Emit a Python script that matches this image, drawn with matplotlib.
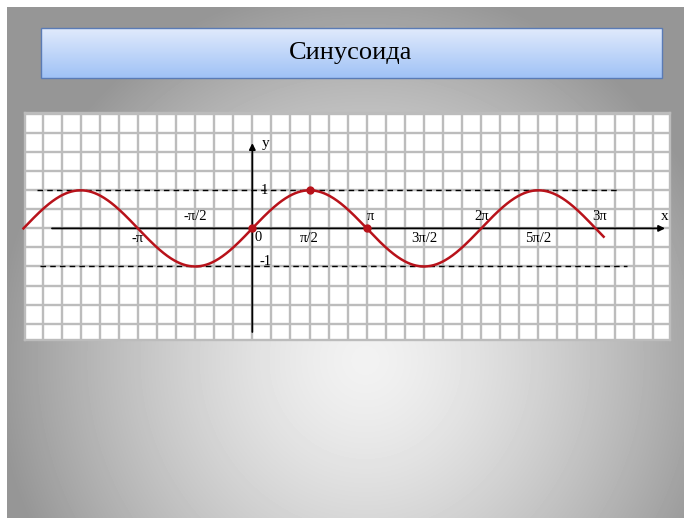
import numpy as np
import matplotlib.pyplot as plt
from matplotlib.patches import Rectangle

PI = np.pi

title = "Синусоида"

# curve y = sin(x), drawn from -2pi to a bit past 3pi
curve_start = -2 * PI
curve_end = 3 * PI + 0.22

# marked points (x in units of pi)
dots_x = [0, 0.5, 1]
dots_y = [0, 1, 0]

# x labels: value in units of pi, text, above/below the axis
xlab_vals = [-1, -0.5, 0.5, 1, 1.5, 2, 2.5, 3]
xlab_text = ["-π", "-π/2", "π/2", "π", "3π/2", "2π", "5π/2", "3π"]
xlab_above = [False, True, False, True, False, True, False, True]

# y labels
ylab_vals = [1, -1]
ylab_text = ["1", "-1"]

red = "#b8121a"
gridc = "#bcbcbc"
serif = ["Liberation Serif", "DejaVu Serif"]

fig = plt.figure(figsize=(6.84, 5.18), dpi=100)
fig.patch.set_facecolor("white")

# background layer in pixel coordinates
bg = fig.add_axes([0, 0, 1, 1])
bg.set_xlim(0, 684)
bg.set_ylim(518, 0)
bg.axis("off")

yy, xx = np.mgrid[7:518, 7:684]
r = np.sqrt(((xx - 365) / 370.0) ** 2 + ((yy - 360) / 380.0) ** 2)
shade = np.clip(242 - 92 * r ** 1.4, 150, 242)
bg.imshow(shade, cmap="gray", vmin=0, vmax=255, extent=(7, 684, 518, 7),
          aspect="auto", interpolation="bilinear")

# title box with vertical blue gradient
top = np.array([224, 234, 252]) / 255.0
bot = np.array([160, 194, 246]) / 255.0
t = np.linspace(0, 1, 60)[:, None]
grad = (top * (1 - t) + bot * t)[:, None, :]
bg.imshow(grad, extent=(41, 662, 78, 28), aspect="auto", interpolation="bilinear")
bg.add_patch(Rectangle((41, 28), 621, 50, fill=False, ec="#5a7bb5", lw=1.0))
bg.text(351, 59.5, title, ha="center", va="baseline", fontsize=19,
        family=serif, color="black")
bg.set_xlim(0, 684)
bg.set_ylim(518, 0)

# graph paper axes
ax = fig.add_axes([25 / 684, 1 - 340 / 518, 645 / 684, 227 / 518])
ax.set_facecolor("white")
ax.set_xlim(-11.92 * PI / 6, 21.90 * PI / 6)
ax.set_ylim(-2.93, 3.03)
ax.set_xticks(np.arange(-11, 22) * PI / 6)
ax.set_yticks(np.arange(-5, 7) * 0.5)
ax.grid(True, color=gridc, lw=1.7)
ax.tick_params(length=0, labelbottom=False, labelleft=False)
for s in ax.spines.values():
    s.set_color(gridc)
    s.set_linewidth(1.7)

# dashed lines y = 1 and y = -1
ax.plot([-1.882 * PI, 3.189 * PI], [1, 1], color="black", lw=1.0, ls=(0, (4, 3)), zorder=3)
ax.plot([-1.856 * PI, 3.276 * PI], [-1, -1], color="black", lw=1.0, ls=(0, (4, 3)), zorder=3)

# axes with arrows
arrow = dict(arrowstyle="-|>", color="black", lw=1.3, mutation_scale=9, shrinkA=0, shrinkB=0)
ax.annotate("", xy=(3.607 * PI, 0), xytext=(-1.751 * PI, 0), arrowprops=arrow, zorder=4)
ax.annotate("", xy=(0, 2.24), xytext=(0, -2.72), arrowprops=arrow, zorder=4)

# sine curve
xs = np.linspace(curve_start, curve_end, 800)
ax.plot(xs, np.sin(xs), color=red, lw=1.8, zorder=5, clip_on=False)
ax.plot(np.array(dots_x) * PI, dots_y, "o", color=red, ms=5, zorder=6)

# labels
for v, txt, above in zip(xlab_vals, xlab_text, xlab_above):
    dx = 0.035 * PI if txt in ("π", "3π") else 0.0
    ax.text(v * PI + dx, 0.31 if above else -0.27, txt, ha="center", va="center",
            fontsize=10.5, family=serif, zorder=7)
ax.text(0.165, -0.25, "0", ha="center", va="center", fontsize=10.5, family=serif, zorder=7)
for v, txt in zip(ylab_vals, ylab_text):
    ax.text(0.33 if v > 0 else 0.36, v if v > 0 else v + 0.13, txt, ha="center", va="center",
            fontsize=10.5, family=serif, zorder=7)
ax.text(0.36, 2.24, "y", ha="center", va="center", fontsize=11, family=serif, zorder=7)
ax.text(3.607 * PI, 0.32, "x", ha="center", va="center", fontsize=11, family=serif, zorder=7)

fig.savefig("out.png", dpi=100)
